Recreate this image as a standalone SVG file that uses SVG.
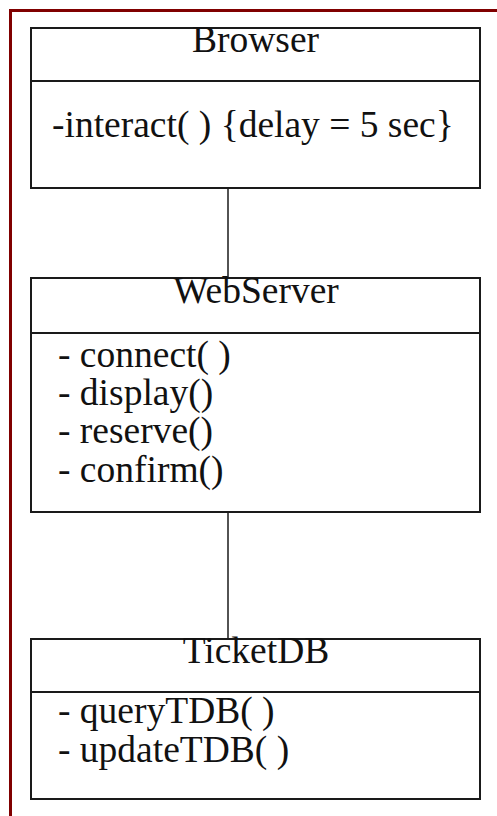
<svg xmlns="http://www.w3.org/2000/svg" width="497" height="816" viewBox="0 0 497 816">
<style>
.box{fill:#fff;stroke:#1a1a1a;stroke-width:2}
.div{stroke:#1a1a1a;stroke-width:2}
.conn{stroke:#1a1a1a;stroke-width:1.5;fill:none}
.t{font-family:"Liberation Serif","Times New Roman",serif;font-size:37.5px;fill:#111}
.title{text-anchor:middle}
</style>
<rect x="0" y="0" width="497" height="816" fill="#fff"/>
<path d="M10.5,816 V10.5 H497" fill="none" stroke="#800000" stroke-width="3"/>
<g id="connectors">
<line class="conn" x1="228" y1="188" x2="228" y2="278"/>
<line class="conn" x1="228" y1="512" x2="228" y2="639"/>
</g>
<g id="browser">
<rect class="box" x="31" y="28" width="449" height="160"/>
<line class="div" x1="31" y1="81" x2="480" y2="81"/>
<text class="t title" x="255.5" y="52">Browser</text>
<text class="t" x="52" y="137">-interact( ) {delay = 5 sec}</text>
</g>
<g id="webserver">
<rect class="box" x="31" y="278" width="449" height="234"/>
<line class="div" x1="31" y1="333" x2="480" y2="333"/>
<text class="t title" x="256" y="303">WebServer</text>
<text class="t" x="58" y="367">- connect( )</text>
<text class="t" x="58" y="405">- display()</text>
<text class="t" x="58" y="443">- reserve()</text>
<text class="t" x="58" y="482">- confirm()</text>
</g>
<g id="ticketdb">
<rect class="box" x="31" y="639" width="449" height="160"/>
<line class="div" x1="31" y1="692" x2="480" y2="692"/>
<text class="t title" x="256" y="663">TicketDB</text>
<text class="t" x="58" y="723">- queryTDB( )</text>
<text class="t" x="58" y="762">- updateTDB( )</text>
</g>
</svg>
